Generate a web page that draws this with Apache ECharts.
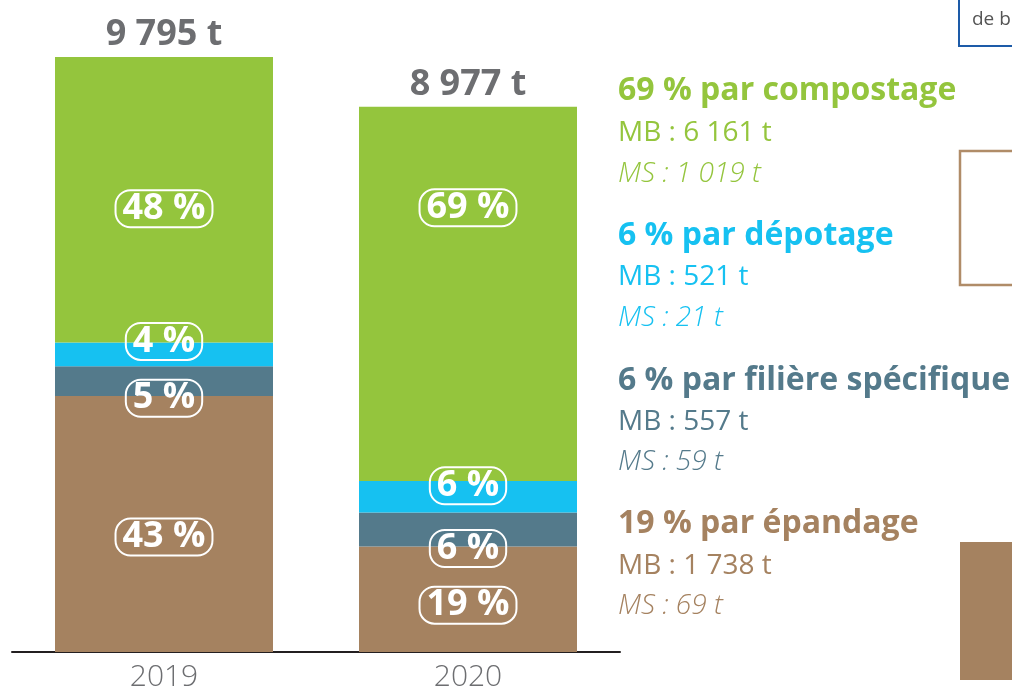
<!DOCTYPE html>
<html>
<head>
<meta charset="utf-8">
<title>Boues - destination</title>
<style>
    html, body { margin:0; padding:0; background:#fff; }
    #main { width:1012px; height:689px; }
</style>
</head>
<body>
<div id="main"></div>
<script src="https://cdn.jsdelivr.net/npm/echarts@6/dist/echarts.min.js"></script>
<script>
// données (tonnes de matière brute)
var categories = ['2019', '2020'];
var totals     = [9795, 8977];
var epandage   = [4212, 1738];
var filiere    = [490, 557];
var depotage   = [392, 521];
var compostage = [4701, 6161];

// textes de la légende à droite (2020)
var legendTitles = ['69 % par compostage', '6 % par dépotage', '6 % par filière spécifique', '19 % par épandage'];
var legendMB     = ['MB : 6 161 t', 'MB : 521 t', 'MB : 557 t', 'MB : 1 738 t'];
var legendMS     = ['MS : 1 019 t', 'MS : 21 t', 'MS : 59 t', 'MS : 69 t'];

var FONT = "'Open Sans', 'Noto Sans', sans-serif";
var GREEN = '#94c53d', CYAN = '#16c1f1', SLATE = '#547a8b', BROWN = '#a58260';
var legendColors = [GREEN, CYAN, SLATE, BROWN];

function fmt(n) {
    return String(n).replace(/\B(?=(\d{3})+(?!\d))/g, ' ');
}

// décalage vertical des étiquettes par rapport au centre du segment
function segSeries(name, values, color, shifts) {
    return {
        name: name,
        type: 'bar',
        stack: 'total',
        barWidth: 218,
        itemStyle: { color: color },
        emphasis: { disabled: true },
        data: values.map(function (v, i) {
            return { value: v, label: { offset: [0, shifts[i]] } };
        }),
        label: {
            show: true,
            position: 'inside',
            color: '#fff',
            fontFamily: FONT,
            fontWeight: 'bold',
            fontSize: 36,
            lineHeight: 36,
            borderColor: '#fff',
            borderWidth: 2,
            borderRadius: 15,
            padding: [1, 7, 0, 7],
            formatter: function (p) {
                return Math.round(p.value / totals[p.dataIndex] * 100) + ' %';
            }
        }
    };
}

var graphics = [];
var titleY = [90, 235, 380, 523], mbY = [131, 275, 420, 564], msY = [172, 316, 460, 604];
for (var i = 0; i < legendTitles.length; i++) {
    graphics.push({ type: 'text', left: 618, top: titleY[i] - 15, silent: true,
        style: { text: legendTitles[i], fill: legendColors[i], font: 'bold 32px ' + FONT } });
    graphics.push({ type: 'text', left: 618, top: mbY[i] - 12, silent: true,
        style: { text: legendMB[i], fill: legendColors[i], font: '28px ' + FONT } });
    graphics.push({ type: 'text', left: 618, top: msY[i] - 12, silent: true,
        style: { text: legendMS[i], fill: legendColors[i], font: 'italic 300 28px ' + FONT } });
}
// bords d'éléments voisins coupés par le cadrage
graphics.push({ type: 'rect', silent: true, shape: { x: 959, y: -4, width: 80, height: 50 },
    style: { fill: '#fff', stroke: '#1d5ba8', lineWidth: 2 } });
graphics.push({ type: 'text', silent: true, left: 972, top: 10,
    style: { text: 'de b', fill: '#555', font: '19px ' + FONT } });
graphics.push({ type: 'rect', silent: true, shape: { x: 960, y: 151, width: 80, height: 134 },
    style: { fill: 'none', stroke: '#b08c68', lineWidth: 2.5 } });
graphics.push({ type: 'rect', silent: true, shape: { x: 960, y: 542, width: 80, height: 138 },
    style: { fill: BROWN } });

var chart = echarts.init(document.getElementById('main'));
var option = {
    backgroundColor: '#fff',
    animation: false,
    grid: { left: 12, width: 608, top: 44.5, bottom: 37, containLabel: false, outerBoundsMode: 'none' },
    xAxis: {
        type: 'category',
        data: categories,
        axisLine: { lineStyle: { color: '#231f20', width: 2 } },
        axisTick: { show: false },
        axisLabel: { color: '#6d6e71', fontFamily: FONT, fontWeight: 300, fontSize: 30, margin: 10 }
    },
    yAxis: { type: 'value', min: 0, max: 10000, show: false, splitLine: { show: false } },
    series: [
        segSeries('épandage', epandage, BROWN, [13, 6]),
        segSeries('filière spécifique', filiere, SLATE, [17, 19]),
        segSeries('dépotage', depotage, CYAN, [-13, -11]),
        segSeries('compostage', compostage, GREEN, [9, -86]),
        {
            name: 'total',
            type: 'bar',
            stack: 'total',
            barWidth: 218,
            itemStyle: { color: 'transparent' },
            emphasis: { disabled: true },
            data: totals.map(function () { return 0; }),
            label: {
                show: true,
                position: 'top',
                distance: 4,
                color: '#6d6e71',
                fontFamily: FONT,
                fontWeight: 'bold',
                fontSize: 36,
                formatter: function (p) { return fmt(totals[p.dataIndex]) + ' t'; }
            }
        }
    ],
    graphic: graphics
};
chart.setOption(option);
</script>
</body>
</html>
